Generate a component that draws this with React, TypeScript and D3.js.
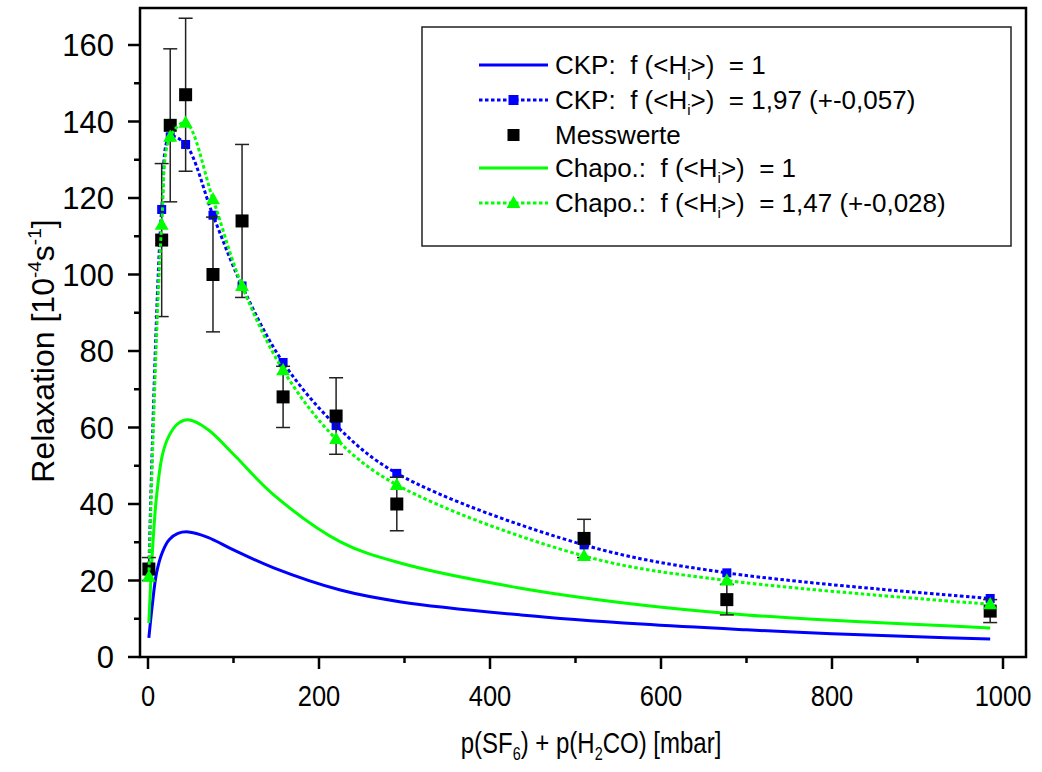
import React from 'react';
import * as d3 from 'd3';

// ---- data ----
const pressure = [1, 16, 26, 44, 76, 110, 158, 220, 291, 510, 677, 985];
const messwerte = [23, 109, 139, 147, 100, 114, 68, 63, 40, 31, 15, 12];
const messFehler = [3, 20, 20, 20, 15, 20, 8, 10, 7, 5, 4, 3];
const ckpFit = [22.5, 117, 136, 134, 115.5, 97, 77, 60.5, 48, 29.3, 22, 15.3];
const chapoFit = [21, 113, 136, 139.7, 119.7, 97, 75, 57, 45, 26.4, 20, 13.8];

const curveP = [1, 5, 10, 17, 25, 35, 47, 70, 100, 147, 225, 296, 436, 577, 700, 800, 900, 985];
const ckpOne = [5.0, 13.5, 22, 27.5, 30.7, 32.3, 32.7, 31.3, 28, 23.3, 17.5, 14.4, 11.0, 8.6, 7.1, 6.1, 5.3, 4.7];
const chapoOne = [8.9, 27, 42, 53, 58, 61, 62, 59.5, 53, 42.4, 30.1, 24.5, 18.0, 13.6, 11.0, 9.6, 8.5, 7.6];

const xMajor = [0, 200, 400, 600, 800, 1000];
const xMinor = [100, 300, 500, 700, 900];
const yMajor = [0, 20, 40, 60, 80, 100, 120, 140, 160];
const yMinor = [10, 30, 50, 70, 90, 110, 130, 150];

const BLUE = '#0000ff';
const GREEN = '#00ff00';
const FONT = '"Liberation Sans", Arial, sans-serif';

const frame = { left: 140, right: 1026, top: 8, bottom: 657 };

export default function App() {
  const x = d3.scaleLinear().domain([0, 1000]).range([148, 1003]);
  const y = d3.scaleLinear().domain([0, 160]).range([657, 45]);

  const solid = d3
    .line<number>()
    .x((_, i) => x(curveP[i]))
    .y((d) => y(d))
    .curve(d3.curveCatmullRom.alpha(0.5));
  const dotted = d3
    .line<number>()
    .x((_, i) => x(pressure[i]))
    .y((d) => y(d))
    .curve(d3.curveCatmullRom.alpha(0.5));

  const tri = (cx: number, cy: number, s: number) =>
    `M${cx},${cy - s * 0.6}L${cx + s * 0.58},${cy + s * 0.42}L${cx - s * 0.58},${cy + s * 0.42}Z`;

  const legendRows = [65, 100, 135, 168, 203];
  const lx0 = 479;
  const lx1 = 548;
  const tx = 555;
  const fs = 26;

  const label = (pre: string, post: string) => (
    <>
      <tspan>{pre}</tspan>
      <tspan fontSize={15} dy={6}>i</tspan>
      <tspan dy={-6}>{post}</tspan>
    </>
  );

  return (
    <div style={{ position: 'absolute', left: 0, top: 0 }}>
      <svg width={1042} height={772} style={{ display: 'block', background: '#fff' }} fontFamily={FONT}>
        <rect x={0} y={0} width={1042} height={772} fill="#fff" />

        {/* solid curves */}
        <path d={solid(ckpOne) || ''} fill="none" stroke={BLUE} strokeWidth={3} />
        <path d={solid(chapoOne) || ''} fill="none" stroke={GREEN} strokeWidth={3} />

        {/* CKP fitted dotted + markers */}
        <path d={dotted(ckpFit) || ''} fill="none" stroke={BLUE} strokeWidth={3} strokeDasharray="3.5,2.5" />
        {ckpFit.map((v, i) => (
          <rect key={'b' + i} x={x(pressure[i]) - 4.5} y={y(v) - 4.5} width={9} height={9} fill={BLUE} />
        ))}

        {/* Messwerte with error bars */}
        {messwerte.map((v, i) => {
          const cx = x(pressure[i]);
          const t = y(v + messFehler[i]);
          const b = y(v - messFehler[i]);
          return (
            <g key={'m' + i} stroke="#222" strokeWidth={1.5}>
              <line x1={cx} x2={cx} y1={t} y2={b} />
              <line x1={cx - 7} x2={cx + 7} y1={t} y2={t} />
              <line x1={cx - 7} x2={cx + 7} y1={b} y2={b} />
            </g>
          );
        })}
        {messwerte.map((v, i) => (
          <rect key={'s' + i} x={x(pressure[i]) - 6.5} y={y(v) - 6.5} width={13} height={13} fill="#000" />
        ))}

        {/* Chapo fitted dotted + markers */}
        <path d={dotted(chapoFit) || ''} fill="none" stroke={GREEN} strokeWidth={3} strokeDasharray="3.5,2.5" />
        {chapoFit.map((v, i) => (
          <path key={'g' + i} d={tri(x(pressure[i]), y(v), 12)} fill={GREEN} />
        ))}

        {/* frame */}
        <rect
          x={frame.left}
          y={frame.top}
          width={frame.right - frame.left}
          height={frame.bottom - frame.top}
          fill="none"
          stroke="#000"
          strokeWidth={2.5}
        />

        {/* x ticks */}
        {xMajor.map((t) => (
          <g key={'xm' + t}>
            <line x1={x(t)} x2={x(t)} y1={frame.bottom} y2={frame.bottom + 12} stroke="#000" strokeWidth={2.5} />
            <text transform={`translate(${x(t)},706) scale(0.85,1)`} textAnchor="middle" fontSize={30}>
              {t}
            </text>
          </g>
        ))}
        {xMinor.map((t) => (
          <line key={'xn' + t} x1={x(t)} x2={x(t)} y1={frame.bottom} y2={frame.bottom + 6} stroke="#000" strokeWidth={2.5} />
        ))}

        {/* y ticks */}
        {yMajor.map((t) => (
          <g key={'ym' + t}>
            <line x1={frame.left - 12} x2={frame.left} y1={y(t)} y2={y(t)} stroke="#000" strokeWidth={2.5} />
            <text x={frame.left - 26} y={y(t) + 11} textAnchor="end" fontSize={31}>
              {t}
            </text>
          </g>
        ))}
        {yMinor.map((t) => (
          <line key={'yn' + t} x1={frame.left - 6} x2={frame.left} y1={y(t)} y2={y(t)} stroke="#000" strokeWidth={2.5} />
        ))}

        {/* axis titles */}
        <text transform="translate(591,753) scale(0.8,1)" textAnchor="middle" fontSize={30} xmlSpace="preserve">
          <tspan>p(SF</tspan>
          <tspan fontSize={18} dy={7}>6</tspan>
          <tspan dy={-7}>) + p(H</tspan>
          <tspan fontSize={18} dy={7}>2</tspan>
          <tspan dy={-7}>CO) [mbar]</tspan>
        </text>
        <text transform="translate(54,351) rotate(-90)" textAnchor="middle" fontSize={32}>
          <tspan>Relaxation [10</tspan>
          <tspan fontSize={19} dy={-13}>-4</tspan>
          <tspan dy={13}>s</tspan>
          <tspan fontSize={19} dy={-13}>-1</tspan>
          <tspan dy={13}>]</tspan>
        </text>

        {/* legend */}
        <rect x={422} y={27} width={589} height={219} fill="#fff" stroke="#222" strokeWidth={1.5} />
        <g fontSize={fs}>
          <line x1={lx0} x2={lx1} y1={legendRows[0]} y2={legendRows[0]} stroke={BLUE} strokeWidth={3} />
          <text x={tx} y={legendRows[0] + 9} xmlSpace="preserve">{label('CKP:  f (<H', '>)  = 1')}</text>

          <line x1={lx0} x2={lx1} y1={legendRows[1]} y2={legendRows[1]} stroke={BLUE} strokeWidth={3} strokeDasharray="3.5,2.5" />
          <rect x={(lx0 + lx1) / 2 - 5} y={legendRows[1] - 5} width={10} height={10} fill={BLUE} />
          <text x={tx} y={legendRows[1] + 9} xmlSpace="preserve">{label('CKP:  f (<H', '>)  = 1,97 (+-0,057)')}</text>

          <rect x={(lx0 + lx1) / 2 - 6} y={legendRows[2] - 6} width={12} height={12} fill="#000" />
          <text x={tx} y={legendRows[2] + 9}>Messwerte</text>

          <line x1={lx0} x2={lx1} y1={legendRows[3]} y2={legendRows[3]} stroke={GREEN} strokeWidth={3} />
          <text x={tx} y={legendRows[3] + 9} xmlSpace="preserve">{label('Chapo.:  f (<H', '>)  = 1')}</text>

          <line x1={lx0} x2={lx1} y1={legendRows[4]} y2={legendRows[4]} stroke={GREEN} strokeWidth={3} strokeDasharray="3.5,2.5" />
          <path d={tri((lx0 + lx1) / 2, legendRows[4], 12)} fill={GREEN} />
          <text x={tx} y={legendRows[4] + 9} xmlSpace="preserve">{label('Chapo.:  f (<H', '>)  = 1,47 (+-0,028)')}</text>
        </g>
      </svg>
    </div>
  );
}
